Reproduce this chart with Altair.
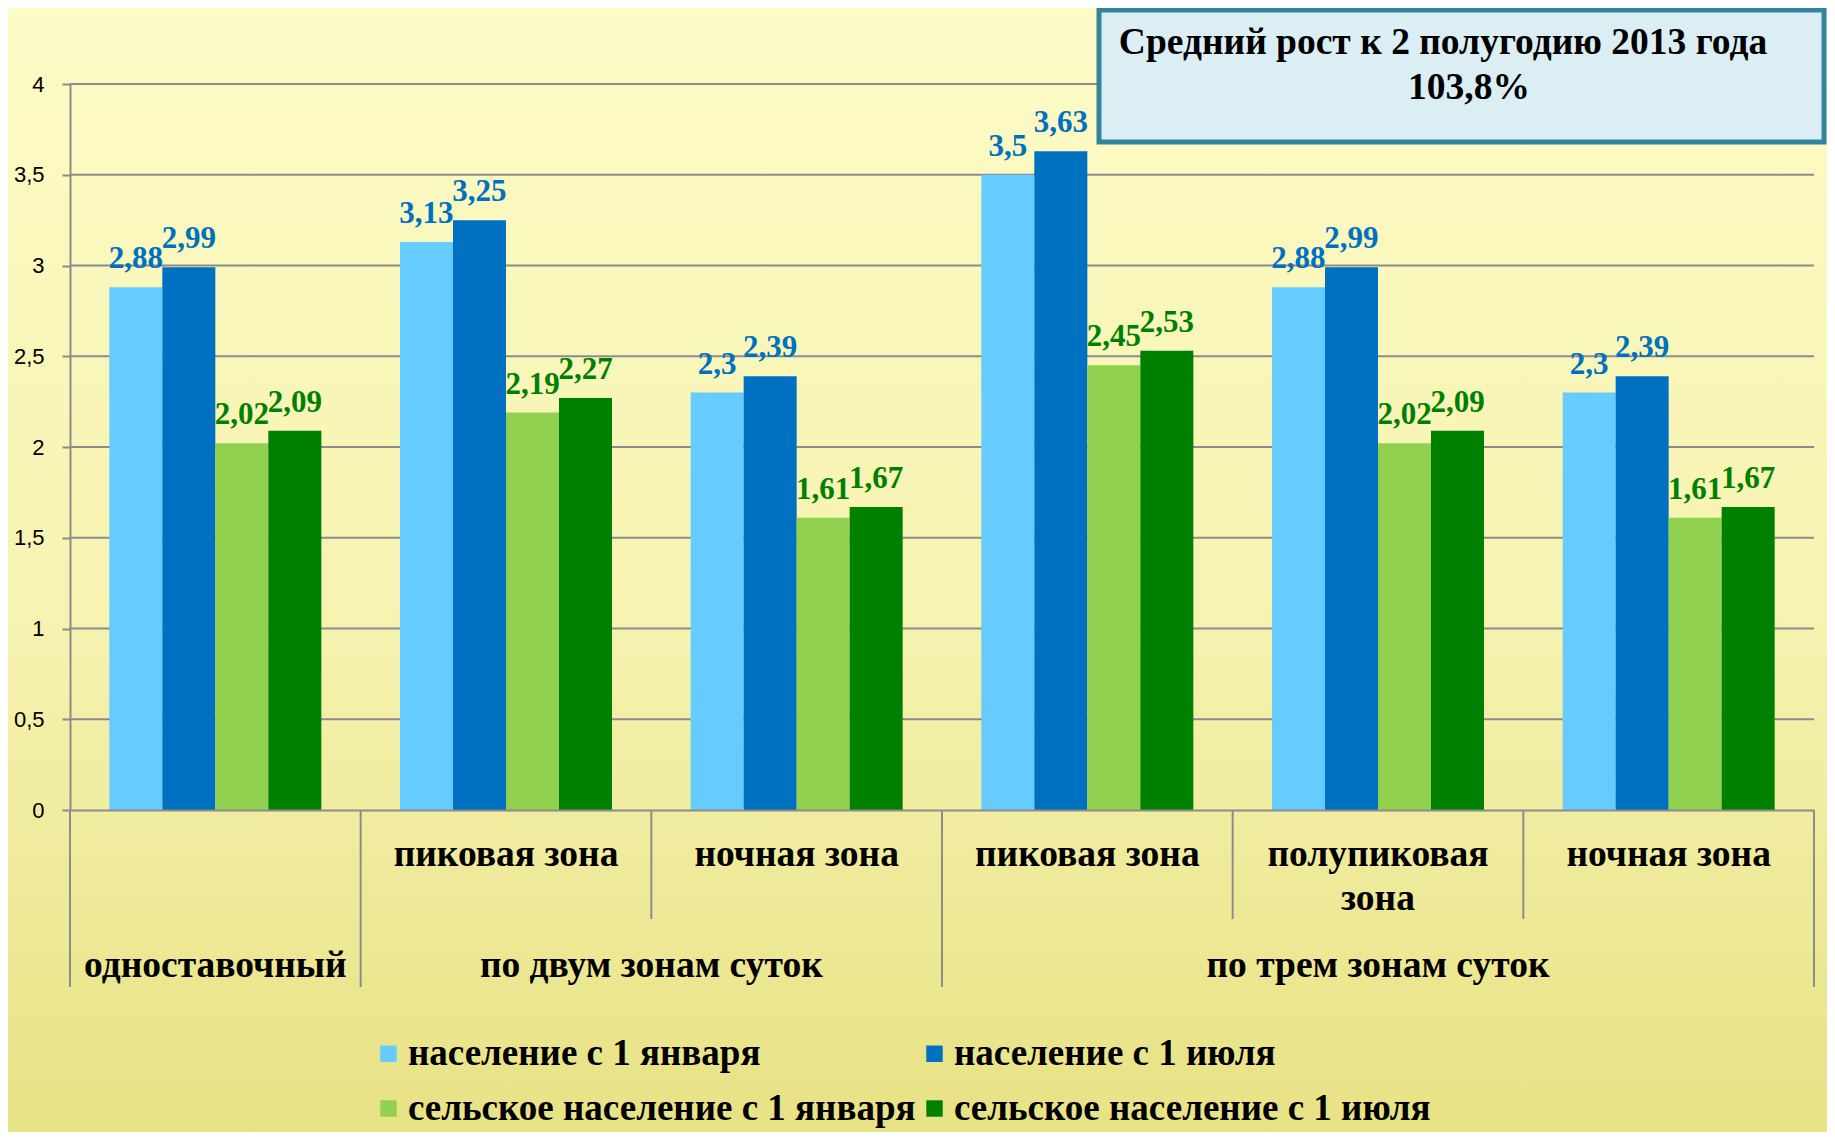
import altair as alt
import pandas as pd

# ---------------- data ----------------
categories = ["c1", "c2", "c3", "c4", "c5", "c6"]
sub_labels = ["", "пиковая зона", "ночная зона", "пиковая зона", "полупиковая\nзона", "ночная зона"]
group_labels = ["одноставочный", "по двум зонам суток", "по трем зонам суток"]
series = ["население с 1 января", "население с 1 июля",
          "сельское население с 1 января", "сельское население с 1 июля"]
colors = ["#66CCFF", "#0070C0", "#92D050", "#008000"]
v_pop_jan = [2.88, 3.13, 2.3, 3.5, 2.88, 2.3]
v_pop_jul = [2.99, 3.25, 2.39, 3.63, 2.99, 2.39]
v_rur_jan = [2.02, 2.19, 1.61, 2.45, 2.02, 1.61]
v_rur_jul = [2.09, 2.27, 1.67, 2.53, 2.09, 1.67]
y_ticks = [0, 0.5, 1, 1.5, 2, 2.5, 3, 3.5, 4]
title_lines = ["Средний рост к 2 полугодию 2013 года", "103,8%"]

rows = []
for s, vals in zip(series, [v_pop_jan, v_pop_jul, v_rur_jan, v_rur_jul]):
    for c, v in zip(categories, vals):
        rows.append({"cat": c, "series": s, "value": v})
df = pd.DataFrame(rows)

W, H = 1744, 726
SERIF = "Liberation Serif"
GRID = "#8C8C8C"
FS = 37.5

xscale = alt.Scale(domain=categories, paddingInner=0, paddingOuter=0)
yscale = alt.Scale(domain=[0, 4], nice=False, zero=True)
offscale = alt.Scale(domain=series, paddingInner=0, paddingOuter=0.742)

# background gradient
bg = alt.Chart(alt.Data(values=[{}])).mark_rect(
    color=alt.LinearGradient(
        gradient="linear",
        stops=[alt.GradientStop(color="#FDFBC6", offset=0),
               alt.GradientStop(color="#F6F2B0", offset=0.55),
               alt.GradientStop(color="#E7E284", offset=1)],
        x1=0, x2=0, y1=0, y2=1)
).encode(x=alt.value(-62), x2=alt.value(W + 13), y=alt.value(-76), y2=alt.value(1050))

grid = alt.Chart(alt.Data(values=[{"v": t} for t in y_ticks[1:]])).mark_rule(
    color=GRID, strokeWidth=2
).encode(y=alt.Y("v:Q", scale=yscale), x=alt.value(0), x2=alt.value(W))

legend_order = [series[0], series[2], series[1], series[3]]

bars = alt.Chart(df).mark_bar().encode(
    x=alt.X("cat:N", scale=xscale, sort=categories,
            axis=alt.Axis(labels=False, ticks=False, title=None, domainColor=GRID,
                          domainWidth=2, zindex=1, grid=False)),
    xOffset=alt.XOffset("series:N", scale=offscale, sort=series),
    y=alt.Y("value:Q", scale=yscale,
            axis=alt.Axis(values=y_ticks, grid=False, title=None,
                          labelExpr="replace(toString(datum.value), '.', ',')",
                          labelFont="Liberation Sans", labelFontSize=22, labelColor="#000000",
                          labelPadding=18, tickSize=8, tickColor=GRID, tickWidth=2,
                          domainColor=GRID, domainWidth=2, zindex=1)),
    color=alt.Color("series:N", scale=alt.Scale(domain=series, range=colors), sort=series,
                    legend=alt.Legend(title=None, orient="none", legendX=300, legendY=951,
                                      columns=2, values=legend_order,
                                      symbolType="square", symbolSize=270,
                                      symbolStrokeWidth=0, labelFont=SERIF, labelFontSize=37,
                                      labelFontWeight="bold", labelColor="#000000",
                                      labelLimit=0, labelOffset=1, columnPadding=0,
                                      rowPadding=17)),
)

labels = alt.Chart(df).transform_calculate(
    lbl="replace(toString(datum.value), '.', ',')"
).mark_text(font=SERIF, fontWeight="bold", fontSize=31, baseline="alphabetic", dy=-19).encode(
    x=alt.X("cat:N", scale=xscale, sort=categories),
    xOffset=alt.XOffset("series:N", scale=offscale, sort=series),
    y=alt.Y("value:Q", scale=yscale),
    text="lbl:N",
    color=alt.condition("indexof(datum.series, 'сельское') >= 0",
                        alt.value("#008000"), alt.value("#0070C0")),
)

def ticks(cats, length, band):
    return alt.Chart(alt.Data(values=[{"cat": c} for c in cats])).mark_rule(
        color=GRID, strokeWidth=2
    ).encode(x=alt.X("cat:N", scale=xscale, sort=categories, bandPosition=band),
             y=alt.value(H), y2=alt.value(H + length))

long_ticks = ticks(["c1", "c2", "c4"], 177, 0)
end_tick = ticks(["c6"], 177, 1)
short_ticks = ticks(["c3", "c5", "c6"], 109, 0)

sub_text = alt.Chart(alt.Data(values=[{"cat": c, "t": t} for c, t in zip(categories, sub_labels)])).mark_text(
    font=SERIF, fontWeight="bold", fontSize=FS, baseline="top", lineBreak="\n", lineHeight=44,
    color="#000000"
).encode(x=alt.X("cat:N", scale=xscale, sort=categories), y=alt.value(752), text="t:N")

grp_a = alt.Chart(alt.Data(values=[{"cat": "c1", "t": group_labels[0]},
                                   {"cat": "c5", "t": group_labels[2]}])).mark_text(
    font=SERIF, fontWeight="bold", fontSize=FS, baseline="middle", color="#000000"
).encode(x=alt.X("cat:N", scale=xscale, sort=categories), y=alt.value(882), text="t:N")
grp_b = alt.Chart(alt.Data(values=[{"cat": "c3", "t": group_labels[1]}])).mark_text(
    font=SERIF, fontWeight="bold", fontSize=FS, baseline="middle", color="#000000"
).encode(x=alt.X("cat:N", scale=xscale, sort=categories, bandPosition=0),
         y=alt.value(882), text="t:N")

box = alt.Chart(alt.Data(values=[{}])).mark_rect(
    fill="#DAEEF3", stroke="#31849B", strokeWidth=5
).encode(x=alt.value(1029), x2=alt.value(W + 10), y=alt.value(-74), y2=alt.value(58))
t1 = alt.Chart(alt.Data(values=[{"t": title_lines[0]}])).mark_text(
    font=SERIF, fontWeight="bold", fontSize=FS, baseline="middle", color="#000000"
).encode(x=alt.value(1373), y=alt.value(-41), text="t:N")
t2 = alt.Chart(alt.Data(values=[{"t": title_lines[1]}])).mark_text(
    font=SERIF, fontWeight="bold", fontSize=FS, baseline="middle", color="#000000"
).encode(x=alt.value(1399), y=alt.value(4), text="t:N")

chart = alt.layer(
    bg, grid, bars, labels, long_ticks, end_tick, short_ticks, sub_text, grp_a, grp_b, box, t1, t2
).properties(
    width=W, height=H,
    autosize=alt.AutoSizeParams(type="none"),
    padding={"left": 62, "top": 76, "right": 13, "bottom": 322},
    background="#F3EFA8",
).configure_view(stroke=None)

chart.save("out.html", embed_options={"renderer": "svg", "actions": False})
